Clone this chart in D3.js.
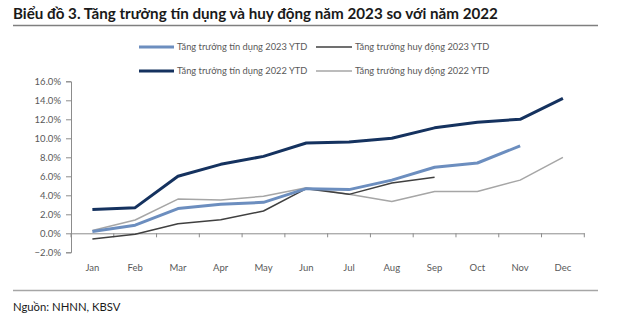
<!DOCTYPE html>
<html>
<head>
<meta charset="utf-8">
<script src="https://cdn.jsdelivr.net/npm/d3@7"></script>
<style>
  html, body { margin: 0; padding: 0; background: #ffffff; }
  svg { display: block; font-family: "Lato", "Noto Sans", sans-serif; }
</style>
</head>
<body>
<svg id="chart" width="624" height="324"></svg>
<script>
const months = ["Jan","Feb","Mar","Apr","May","Jun","Jul","Aug","Sep","Oct","Nov","Dec"];
const credit2023 = [0.2, 0.85, 2.6, 3.05, 3.26, 4.7, 4.6, 5.6, 6.95, 7.4, 9.2];
const mobil2023 = [-0.6, -0.1, 1.0, 1.43, 2.35, 4.7, 4.1, 5.3, 5.9];
const credit2022 = [2.5, 2.7, 6.0, 7.26, 8.1, 9.5, 9.6, 10.0, 11.1, 11.7, 12.0, 14.2];
const mobil2022 = [0.3, 1.4, 3.6, 3.5, 3.9, 4.8, 4.1, 3.35, 4.4, 4.4, 5.6, 8.0];
const yTicks = [-2, 0, 2, 4, 6, 8, 10, 12, 14, 16];
const titleText = "Biểu đồ 3. Tăng trưởng tín dụng và huy động năm 2023 so với năm 2022";
const sourceText = "Nguồn: NHNN, KBSV";
const seriesNames = ["Tăng trưởng tín dụng 2023 YTD", "Tăng trưởng huy động 2023 YTD",
                     "Tăng trưởng tín dụng 2022 YTD", "Tăng trưởng huy động 2022 YTD"];

const series = [
  { name: seriesNames[0], values: credit2023, color: "#6c8ebf", width: 3 },
  { name: seriesNames[1], values: mobil2023, color: "#404040", width: 1.5 },
  { name: seriesNames[2], values: credit2022, color: "#15325f", width: 3 },
  { name: seriesNames[3], values: mobil2022, color: "#a6a6a6", width: 1.5 }
];

const svg = d3.select("#chart");
const textColor = "#595959";

// Title
svg.append("text").attr("x", 13).attr("y", 19)
  .attr("font-size", 15.2).attr("font-weight", "bold").attr("fill", "#1a1a1a")
  .text(titleText);
svg.append("line").attr("x1", 13).attr("x2", 598).attr("y1", 25.5).attr("y2", 25.5)
  .attr("stroke", "#7f7f7f").attr("stroke-width", 1.5);

// Scales
const x = d3.scaleBand().domain(months).range([71, 584.3]);
const y = d3.scaleLinear().domain([-2, 16]).range([252.3, 81.3]);

// Y axis
const yAxis = svg.append("g").attr("transform", "translate(71,0)")
  .call(d3.axisLeft(y).tickValues(yTicks).tickSize(5).tickPadding(5)
        .tickFormat(d => d3.format(".1f")(d) + "%"));
yAxis.select(".domain").attr("stroke", "#8c8c8c");
yAxis.selectAll(".tick line").attr("stroke", "#8c8c8c");
yAxis.selectAll("text").attr("fill", textColor).attr("font-size", 9.5)
  .attr("font-family", "Lato, sans-serif");

// X axis at 0
const xAxis = svg.append("g").attr("transform", `translate(0,${y(0)})`)
  .call(d3.axisBottom(x).tickSize(0).tickFormat(""));
xAxis.select(".domain").attr("stroke", "#8c8c8c");
const xb = months.map(m => x(m)).concat([x.range()[1]]);
svg.append("g").selectAll("line").data(xb).join("line")
  .attr("x1", d => d).attr("x2", d => d)
  .attr("y1", y(0)).attr("y2", y(0) + 4)
  .attr("stroke", "#8c8c8c");
svg.append("g").selectAll("text").data(months).join("text")
  .attr("x", d => x(d) + x.bandwidth() / 2).attr("y", 271)
  .attr("text-anchor", "middle").attr("fill", textColor).attr("font-size", 9.5)
  .text(d => d);

// Lines
const line = d3.line()
  .x((d, i) => x(months[i]) + x.bandwidth() / 2)
  .y(d => y(d));
const order = [3, 1, 0, 2];
svg.append("g").selectAll("path").data(order.map(i => series[i])).join("path")
  .attr("d", d => line(d.values))
  .attr("fill", "none").attr("stroke", d => d.color)
  .attr("stroke-width", d => d.width)
  .attr("stroke-linejoin", "round");

// Legend
const legendPos = [
  { lx: 139, ly: 47 }, { lx: 316, ly: 47 },
  { lx: 139, ly: 71 }, { lx: 316, ly: 71 }
];
const lg = svg.append("g").selectAll("g").data(series).join("g")
  .attr("transform", (d, i) => `translate(${legendPos[i].lx},${legendPos[i].ly})`);
lg.append("line").attr("x1", 0).attr("x2", (d, i) => i % 2 === 0 ? 35 : 36)
  .attr("stroke", d => d.color).attr("stroke-width", d => d.width);
lg.append("text").attr("x", (d, i) => i % 2 === 0 ? 38 : 39).attr("dy", "0.35em")
  .attr("fill", textColor).attr("font-size", 9.3).text(d => d.name);

// Footer
svg.append("line").attr("x1", 13).attr("x2", 598).attr("y1", 290.5).attr("y2", 290.5)
  .attr("stroke", "#a6a6a6").attr("stroke-width", 1.5);
svg.append("text").attr("x", 13).attr("y", 311).attr("font-size", 11.3)
  .attr("fill", "#1a1a1a").text(sourceText);
</script>
</body>
</html>
